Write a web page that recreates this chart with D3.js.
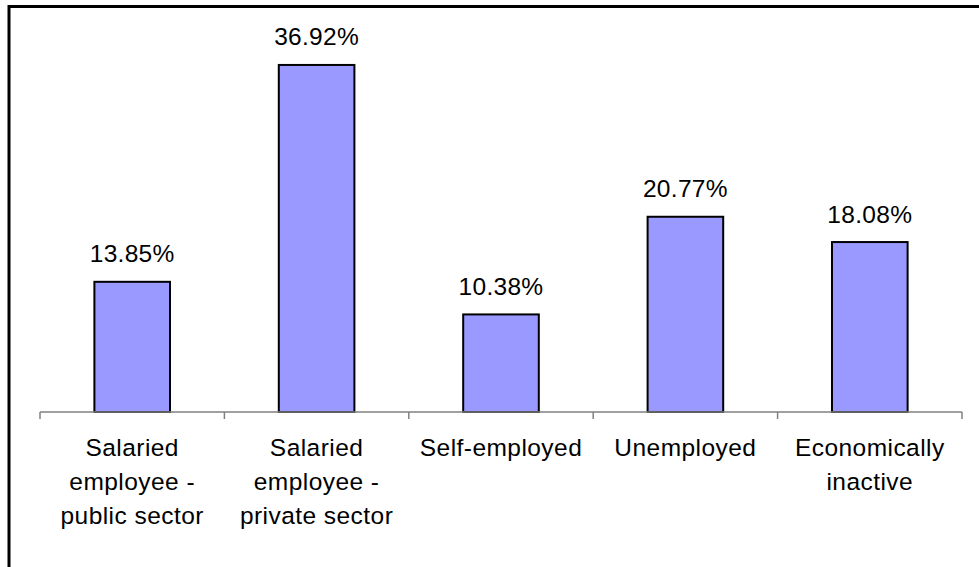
<!DOCTYPE html>
<html>
<head>
<meta charset="utf-8">
<script src="https://cdn.jsdelivr.net/npm/d3@7"></script>
<style>
  html, body { margin: 0; padding: 0; background: #fff; overflow: hidden; }
  svg { display: block; }
  text { font-family: "Liberation Sans", Arial, sans-serif; fill: #000; }
</style>
</head>
<body>
<svg id="chart" width="979" height="567"></svg>
<script>
// Employment status shares (%)
const categories = [
  ["Salaried", "employee -", "public sector"],
  ["Salaried", "employee -", "private sector"],
  ["Self-employed"],
  ["Unemployed"],
  ["Economically", "inactive"]
];
const shares = [13.85, 36.92, 10.38, 20.77, 18.08];
const valueLabels = ["13.85%", "36.92%", "10.38%", "20.77%", "18.08%"];

const svg = d3.select("#chart");

// Outer frame
svg.append("rect")
  .attr("x", 9).attr("y", 6.5)
  .attr("width", 1200).attr("height", 800)
  .attr("fill", "none")
  .attr("stroke", "#000")
  .attr("stroke-width", 3);

const plot = { left: 40, right: 962, top: 36, bottom: 412 };

const x = d3.scaleBand()
  .domain(d3.range(categories.length))
  .range([plot.left, plot.right])
  .paddingInner(0.59)
  .paddingOuter(0.295);

const band = d3.scaleBand()
  .domain(d3.range(categories.length))
  .range([plot.left, plot.right]);

const y = d3.scaleLinear().domain([0, 40]).range([plot.bottom, plot.top]);

// Bars
svg.append("g").selectAll("rect")
  .data(shares)
  .join("rect")
  .attr("x", (d, i) => x(i))
  .attr("y", d => y(d))
  .attr("width", x.bandwidth())
  .attr("height", d => y(0) - y(d))
  .attr("fill", "#9999FF")
  .attr("stroke", "#000")
  .attr("stroke-width", 2);

// Category axis with tick marks at band boundaries
const axis = svg.append("g");
axis.append("line")
  .attr("x1", plot.left).attr("x2", plot.right)
  .attr("y1", plot.bottom).attr("y2", plot.bottom)
  .attr("stroke", "#808080").attr("stroke-width", 1.5);
const boundaries = d3.range(categories.length + 1).map(i =>
  i < categories.length ? band(i) : plot.right);
axis.selectAll("line.tick")
  .data(boundaries)
  .join("line")
  .attr("class", "tick")
  .attr("x1", d => d).attr("x2", d => d)
  .attr("y1", plot.bottom).attr("y2", plot.bottom + 7)
  .attr("stroke", "#808080").attr("stroke-width", 1.5);

// Category labels
svg.append("g").selectAll("text")
  .data(categories)
  .join("text")
  .attr("text-anchor", "middle")
  .attr("font-size", 24.5)
  .attr("letter-spacing", 0.45)
  .each(function(lines, i) {
    d3.select(this).selectAll("tspan")
      .data(lines)
      .join("tspan")
      .attr("x", band(i) + band.bandwidth() / 2)
      .attr("y", (l, j) => 456 + j * 34)
      .text(l => l);
  });

// Value labels above bars
svg.append("g").selectAll("text")
  .data(shares)
  .join("text")
  .attr("text-anchor", "middle")
  .attr("font-size", 24.5)
  .attr("letter-spacing", 0.3)
  .attr("x", (d, i) => x(i) + x.bandwidth() / 2)
  .attr("y", d => y(d) - 19.5)
  .text((d, i) => valueLabels[i]);
</script>
</body>
</html>
